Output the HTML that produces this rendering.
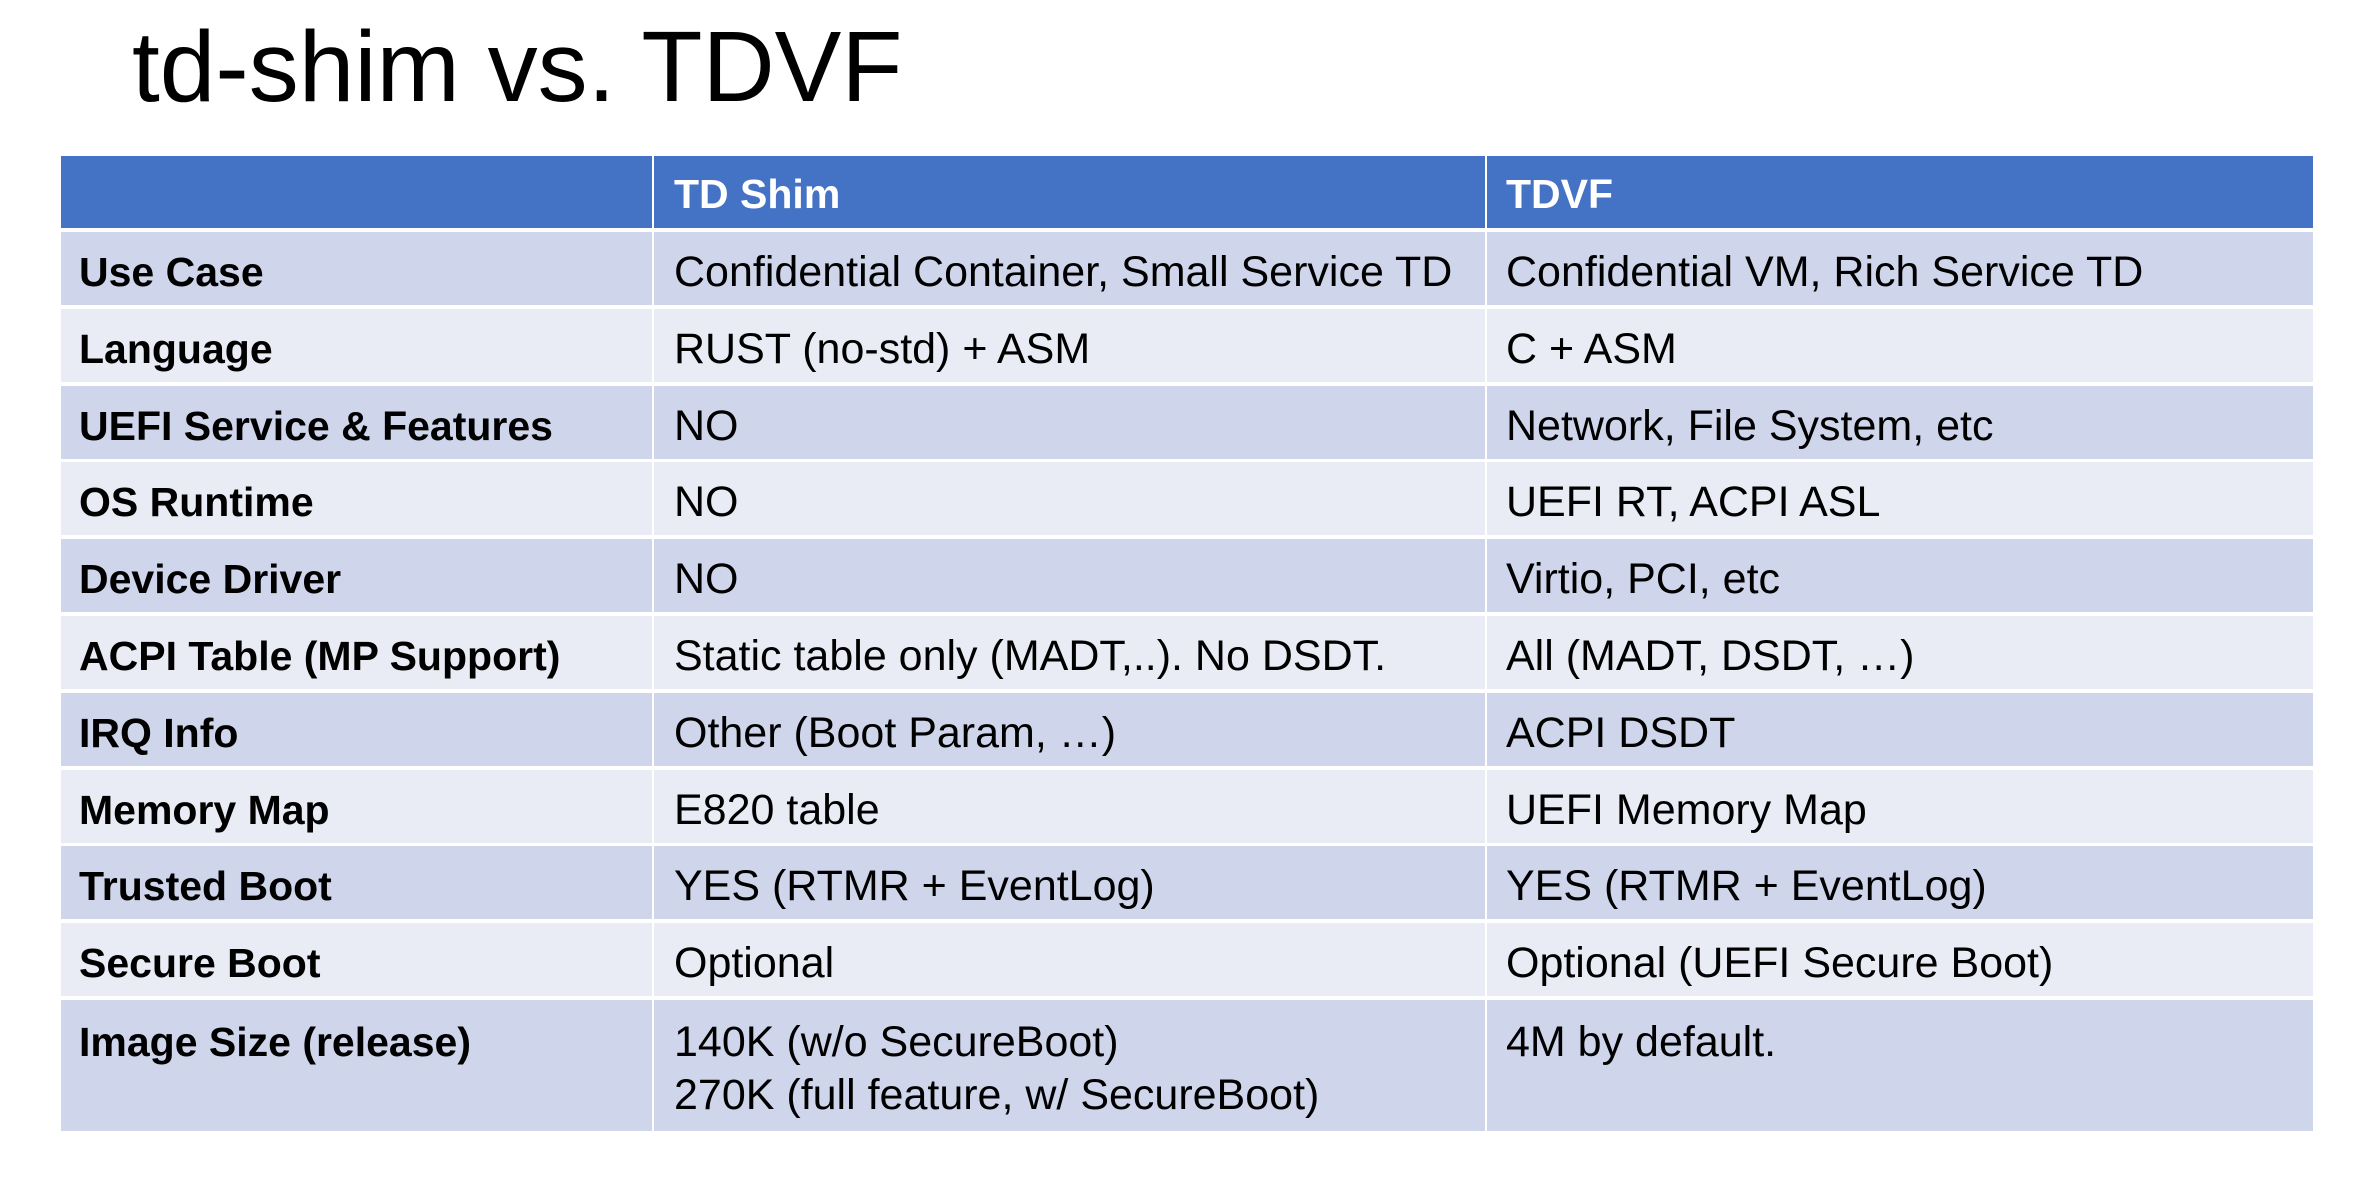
<!DOCTYPE html>
<html><head><meta charset="utf-8"><style>
html,body{margin:0;padding:0;background:#fff;}
body{width:2380px;height:1178px;position:relative;overflow:hidden;font-family:"Liberation Sans",sans-serif;}
.title{position:absolute;left:132px;top:2px;font-size:100px;line-height:130px;color:#000;white-space:nowrap;}
.r{position:absolute;left:61px;width:2252px;height:73px;}
.c{position:absolute;top:0;height:100%;box-sizing:border-box;font-size:43px;color:#000;display:flex;align-items:center;white-space:nowrap;padding-top:8px;}
.c1{left:0;width:591px;padding-left:18px;font-weight:bold;font-size:41px;}
.c2{left:593px;width:831px;padding-left:20px;}
.c3{left:1426px;width:826px;padding-left:19px;}
.h .c{background:#4472C4;color:#fff;font-weight:bold;font-size:41px;padding-top:4px;}
.o .c{background:#CFD5EA;}
.e .c{background:#E9EBF5;}
.last .c{align-items:flex-start;padding-top:16px;line-height:53px;}
</style></head><body>
<div class="title">td-shim vs. TDVF</div>
<div class="r h" style="top:156px;height:72px;"><div class="c c1"></div><div class="c c2">TD Shim</div><div class="c c3">TDVF</div></div>
<div class="r o" style="top:232px"><div class="c c1">Use Case</div><div class="c c2">Confidential Container, Small Service TD</div><div class="c c3">Confidential VM, Rich Service TD</div></div>
<div class="r e" style="top:309px"><div class="c c1">Language</div><div class="c c2">RUST (no-std) + ASM</div><div class="c c3">C + ASM</div></div>
<div class="r o" style="top:386px"><div class="c c1">UEFI Service &amp; Features</div><div class="c c2">NO</div><div class="c c3">Network, File System, etc</div></div>
<div class="r e" style="top:462px"><div class="c c1">OS Runtime</div><div class="c c2">NO</div><div class="c c3">UEFI RT, ACPI ASL</div></div>
<div class="r o" style="top:539px"><div class="c c1">Device Driver</div><div class="c c2">NO</div><div class="c c3">Virtio, PCI, etc</div></div>
<div class="r e" style="top:616px"><div class="c c1">ACPI Table (MP Support)</div><div class="c c2">Static table only (MADT,..). No DSDT.</div><div class="c c3">All (MADT, DSDT, …)</div></div>
<div class="r o" style="top:693px"><div class="c c1">IRQ Info</div><div class="c c2">Other (Boot Param, …)</div><div class="c c3">ACPI DSDT</div></div>
<div class="r e" style="top:770px"><div class="c c1">Memory Map</div><div class="c c2">E820 table</div><div class="c c3">UEFI Memory Map</div></div>
<div class="r o" style="top:846px"><div class="c c1">Trusted Boot</div><div class="c c2">YES (RTMR + EventLog)</div><div class="c c3">YES (RTMR + EventLog)</div></div>
<div class="r e" style="top:923px"><div class="c c1">Secure Boot</div><div class="c c2">Optional</div><div class="c c3">Optional (UEFI Secure Boot)</div></div>
<div class="r o last" style="top:1000px;height:131px"><div class="c c1">Image Size (release)</div><div class="c c2"><div>140K (w/o SecureBoot)<br>270K (full feature, w/ SecureBoot)</div></div><div class="c c3">4M by default.</div></div>
</body></html>
